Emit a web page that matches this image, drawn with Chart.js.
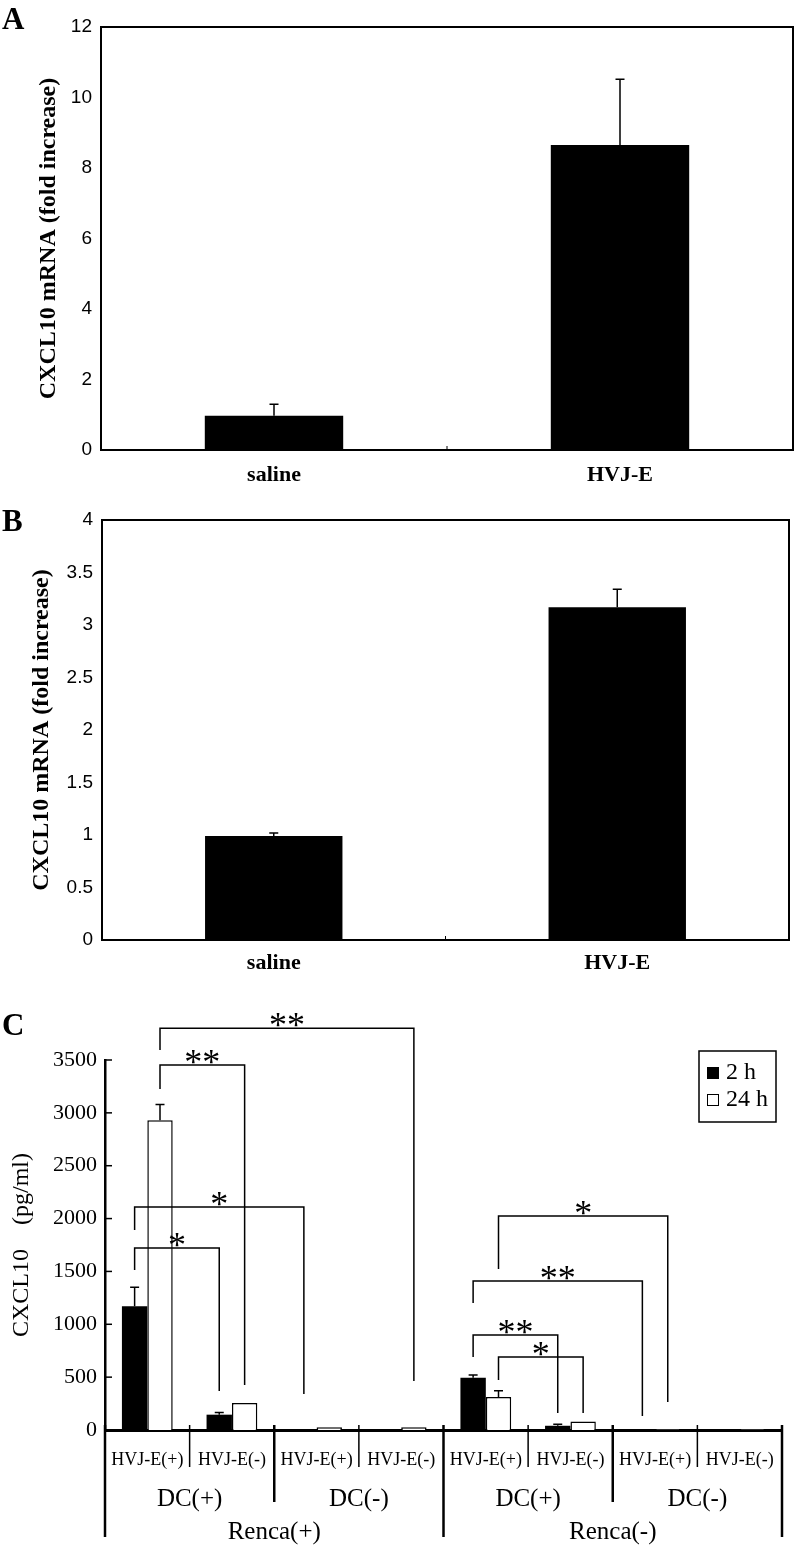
<!DOCTYPE html>
<html>
<head>
<meta charset="utf-8">
<script src="https://cdn.jsdelivr.net/npm/chart.js@4.4.0/dist/chart.umd.min.js"></script>
<style>
  html, body { margin: 0; padding: 0; background: #fff; }
  body { width: 796px; height: 1546px; position: relative; overflow: hidden; }
  .panel { position: absolute; left: 0; width: 796px; }
  .tag { position: absolute; left: 2px; font: bold 31px 'Liberation Serif', serif; line-height: 1; }
</style>
</head>
<body>
<div class="panel" style="top:0;height:495px"><canvas id="chart-a"></canvas></div>
<div class="panel" style="top:495px;height:490px"><canvas id="chart-b"></canvas></div>
<div class="panel" style="top:985px;height:561px"><canvas id="chart-c"></canvas></div>
<div class="tag" style="top:3px">A</div>
<div class="tag" style="top:505px">B</div>
<div class="tag" style="top:1009px">C</div>

<script>
/* ─── Data ───────────────────────────────────── */
const catsA = ['saline', 'HVJ-E'];
const foldA = [0.97, 8.65];
const errA  = [0.33, 1.87];

const catsB = ['saline', 'HVJ-E'];
const foldB = [0.99, 3.17];
const errB  = [0.03, 0.17];

const hvjLabels   = ['HVJ-E(+)', 'HVJ-E(-)', 'HVJ-E(+)', 'HVJ-E(-)', 'HVJ-E(+)', 'HVJ-E(-)', 'HVJ-E(+)', 'HVJ-E(-)'];
const dcLabels    = ['DC(+)', 'DC(-)', 'DC(+)', 'DC(-)'];
const rencaLabels = ['Renca(+)', 'Renca(-)'];
const conc2h  = [1170, 145, 8, 8, 495, 40, 6, 6];
const sem2h   = [180, 20, 0, 0, 25, 15, 0, 0];
const conc24h = [2930, 255, 25, 25, 312, 80, 6, 6];
const sem24h  = [150, 0, 0, 0, 60, 0, 0, 0];

// from/to = [dataset, category]; level / ends in pg/ml
const sigBrackets = [
  { from: [1, 0], to: [1, 3], level: 3800, fromEnd: 3595, toEnd: 464, mark: '**' },
  { from: [1, 0], to: [1, 1], level: 3453, fromEnd: 3226, toEnd: 426, mark: '**' },
  { from: [0, 0], to: [0, 2], level: 2110, fromEnd: 1892, toEnd: 341, mark: '*' },
  { from: [0, 0], to: [0, 1], level: 1722, fromEnd: 1514, toEnd: 369, mark: '*' },
  { from: [1, 4], to: [1, 6], level: 2025, fromEnd: 1523, toEnd: 265, mark: '*' },
  { from: [0, 4], to: [0, 6], level: 1410, fromEnd: 1201, toEnd: 132, mark: '**' },
  { from: [0, 4], to: [0, 5], level: 899,  fromEnd: 690,  toEnd: 161, mark: '**' },
  { from: [1, 4], to: [1, 5], level: 690,  fromEnd: 473,  toEnd: 161, mark: '*' },
];

/* ─── Plugins ────────────────────────────────── */
const errorBarPlugin = {
  id: 'errorBars',
  afterDatasetsDraw(chart, args, opts) {
    const { ctx } = chart;
    const y = chart.scales.y;
    ctx.save();
    ctx.strokeStyle = '#000';
    ctx.lineWidth = opts.width;
    opts.errors.forEach((errs, di) => {
      const values = chart.data.datasets[di].data;
      chart.getDatasetMeta(di).data.forEach((bar, i) => {
        if (!errs[i]) return;
        const yTop = y.getPixelForValue(values[i] + errs[i]);
        ctx.beginPath();
        ctx.moveTo(bar.x, bar.y);
        ctx.lineTo(bar.x, yTop);
        ctx.moveTo(bar.x - opts.cap / 2, yTop);
        ctx.lineTo(bar.x + opts.cap / 2, yTop);
        ctx.stroke();
      });
    });
    ctx.restore();
  }
};

const framePlugin = {
  id: 'frame',
  afterDraw(chart) {
    const { ctx, chartArea: a } = chart;
    const x = chart.scales.x;
    ctx.save();
    ctx.strokeStyle = '#000';
    ctx.lineWidth = 2;
    ctx.strokeRect(a.left, a.top, a.right - a.left, a.bottom - a.top);
    const mid = (x.getPixelForValue(0) + x.getPixelForValue(1)) / 2;
    ctx.lineWidth = 1;
    ctx.beginPath();
    ctx.moveTo(mid, a.bottom);
    ctx.lineTo(mid, a.bottom - 4);
    ctx.stroke();
    ctx.restore();
  }
};

const bracketPlugin = {
  id: 'brackets',
  afterDatasetsDraw(chart, args, opts) {
    const { ctx } = chart;
    const y = chart.scales.y;
    const barX = ([ds, i]) => chart.getDatasetMeta(ds).data[i].x;
    ctx.save();
    ctx.strokeStyle = '#000';
    ctx.fillStyle = '#000';
    ctx.lineWidth = 1.5;
    ctx.font = '36px "Liberation Serif", serif';
    ctx.textAlign = 'center';
    ctx.textBaseline = 'alphabetic';
    opts.list.forEach(b => {
      const x1 = barX(b.from), x2 = barX(b.to);
      const yl = y.getPixelForValue(b.level);
      ctx.beginPath();
      ctx.moveTo(x1, y.getPixelForValue(b.fromEnd));
      ctx.lineTo(x1, yl);
      ctx.lineTo(x2, yl);
      ctx.lineTo(x2, y.getPixelForValue(b.toEnd));
      ctx.stroke();
      ctx.fillText(b.mark, (x1 + x2) / 2, yl + 9);
    });
    ctx.restore();
  }
};

const groupAxisPlugin = {
  id: 'groupAxis',
  afterDraw(chart, args, opts) {
    const { ctx, chartArea: a } = chart;
    const x = chart.scales.x;
    const y = chart.scales.y;
    const n = chart.data.labels.length;
    const edge = i => i === 0 ? a.left : i === n ? a.right
      : (x.getPixelForValue(i - 1) + x.getPixelForValue(i)) / 2;
    ctx.save();
    ctx.strokeStyle = '#000';
    ctx.fillStyle = '#000';

    // inward y ticks
    ctx.lineWidth = 1.5;
    y.ticks.forEach(t => {
      const py = y.getPixelForValue(t.value);
      ctx.beginPath();
      ctx.moveTo(a.left, py);
      ctx.lineTo(a.left + 7, py);
      ctx.stroke();
    });

    // separators
    for (let i = 0; i <= n; i++) {
      const depth = i % 4 === 0 ? 107 : i % 2 === 0 ? 72 : 37;
      ctx.lineWidth = i % 2 === 0 ? 2.5 : 1.5;
      ctx.beginPath();
      ctx.moveTo(edge(i), a.bottom - 5);
      ctx.lineTo(edge(i), a.bottom + depth);
      ctx.stroke();
    }

    // label rows
    ctx.textAlign = 'center';
    ctx.textBaseline = 'middle';
    opts.rows.forEach(row => {
      ctx.font = row.font;
      row.labels.forEach((lab, k) => {
        const cx = (edge(k * row.span) + edge((k + 1) * row.span)) / 2;
        ctx.fillText(lab, cx, a.bottom + row.dy);
      });
    });
    ctx.restore();
  }
};

const boxLegendPlugin = {
  id: 'boxLegend',
  afterDraw(chart) {
    const { ctx, chartArea: a } = chart;
    const w = 77, h = 71;
    const bx = a.right - 6 - w, by = a.top - 9;
    ctx.save();
    ctx.strokeStyle = '#000';
    ctx.lineWidth = 1.5;
    ctx.strokeRect(bx, by, w, h);
    ctx.font = '24px "Liberation Serif", serif';
    ctx.textBaseline = 'middle';
    chart.data.datasets.forEach((ds, i) => {
      const cy = by + 22 + i * 27;
      ctx.fillStyle = ds.backgroundColor;
      ctx.fillRect(bx + 8, cy - 6, 12, 12);
      ctx.lineWidth = 1;
      ctx.strokeRect(bx + 8.5, cy - 5.5, 11, 11);
      ctx.fillStyle = '#000';
      ctx.fillText(ds.label, bx + 27, cy);
    });
    ctx.restore();
  }
};

/* ─── Panels A and B ─────────────────────────── */
function foldChart(id, cats, values, errors, max, step, geom) {
  new Chart(document.getElementById(id), {
    type: 'bar',
    data: {
      labels: cats,
      datasets: [{ data: values, backgroundColor: '#000', borderWidth: 0 }]
    },
    options: {
      responsive: true,
      maintainAspectRatio: false,
      animation: false,
      layout: { padding: { top: geom.top, right: geom.right, left: 0, bottom: 0 } },
      datasets: { bar: { categoryPercentage: 0.4, barPercentage: 1 } },
      plugins: {
        legend: { display: false },
        tooltip: { enabled: false },
        errorBars: { errors: [errors], cap: 9, width: 1.5 }
      },
      scales: {
        x: {
          grid: { display: false, drawTicks: false },
          border: { display: false },
          ticks: {
            color: '#000',
            padding: geom.labelPad,
            font: { family: "'Liberation Serif', serif", size: 22, weight: 'bold' }
          },
          afterFit: s => { s.height = geom.xh; }
        },
        y: {
          min: 0,
          max: max,
          grid: { display: false, drawTicks: false },
          border: { display: false },
          ticks: {
            stepSize: step,
            color: '#000',
            padding: 9,
            font: { family: "'Liberation Sans', sans-serif", size: 19 },
            callback: v => String(v)
          },
          title: {
            display: true,
            text: 'CXCL10 mRNA (fold increase)',
            color: '#000',
            padding: { top: geom.titlePad, bottom: 0 },
            font: { family: "'Liberation Serif', serif", size: 24, weight: 'bold' }
          },
          afterFit: s => { s.width = geom.yw; }
        }
      }
    },
    plugins: [errorBarPlugin, framePlugin]
  });
}

foldChart('chart-a', catsA, foldA, errA, 12, 2,
  { top: 27, right: 3, xh: 45, yw: 101, labelPad: 12, titlePad: 34 });
foldChart('chart-b', catsB, foldB, errB, 4, 0.5,
  { top: 25, right: 7, xh: 45, yw: 102, labelPad: 10, titlePad: 27 });

/* ─── Panel C ────────────────────────────────── */
new Chart(document.getElementById('chart-c'), {
  type: 'bar',
  data: {
    labels: hvjLabels,
    datasets: [
      { label: '2 h',  data: conc2h,  backgroundColor: '#000', borderColor: '#000', borderWidth: 0 },
      { label: '24 h', data: conc24h, backgroundColor: '#fff', borderColor: '#000', borderWidth: 1.5 }
    ]
  },
  options: {
    responsive: true,
    maintainAspectRatio: false,
    animation: false,
    layout: { padding: { top: 75, right: 14, left: 0, bottom: 0 } },
    datasets: { bar: { categoryPercentage: 0.6, barPercentage: 1 } },
    plugins: {
      legend: { display: false },
      tooltip: { enabled: false },
      errorBars: { errors: [sem2h, sem24h], cap: 9, width: 1.5 },
      brackets: { list: sigBrackets },
      groupAxis: {
        rows: [
          { labels: hvjLabels,   span: 1, dy: 30,  font: '18px "Liberation Serif", serif' },
          { labels: dcLabels,    span: 2, dy: 69,  font: '25px "Liberation Serif", serif' },
          { labels: rencaLabels, span: 4, dy: 102, font: '25px "Liberation Serif", serif' }
        ]
      }
    },
    scales: {
      x: {
        grid: { display: false, drawTicks: false },
        ticks: { display: false },
        border: { color: '#000', width: 3 },
        afterFit: s => { s.height = 116; }
      },
      y: {
        min: 0,
        max: 3500,
        grid: { display: false, drawTicks: false },
        border: { color: '#000', width: 2.5 },
        ticks: {
          stepSize: 500,
          color: '#000',
          padding: 8,
          font: { family: "'Liberation Serif', serif", size: 22 },
          callback: v => String(v)
        },
        title: {
          display: true,
          text: 'CXCL10    (pg/ml)',
          color: '#000',
          padding: { top: 7, bottom: 0 },
          font: { family: "'Liberation Serif', serif", size: 24 }
        },
        afterFit: s => { s.width = 105; }
      }
    }
  },
  plugins: [errorBarPlugin, bracketPlugin, groupAxisPlugin, boxLegendPlugin]
});
</script>
</body>
</html>
